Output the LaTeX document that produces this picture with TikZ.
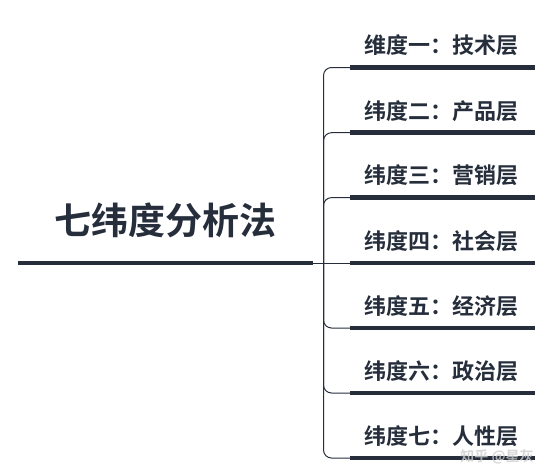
\documentclass[tikz,border=0pt]{standalone}
\usepackage{fontspec}
\newfontfamily\cjk{Noto Sans CJK SC Bold}
\definecolor{ink}{RGB}{38,46,60}
\begin{document}
\begin{tikzpicture}[x=1pt,y=-1pt,
  itemtext/.style={font=\cjk\fontsize{22}{22}\selectfont, text=ink, inner sep=0pt, anchor=center},
  titletext/.style={font=\cjk\fontsize{37}{37}\selectfont, text=ink, inner sep=0pt, anchor=center},
  heavy/.style={draw=ink, line width=4.5pt},
  thinline/.style={draw=ink, line width=1pt, rounded corners=8pt}]
\useasboundingbox (0,0) rectangle (553,475);
\node[titletext] (t) at (165,220) {七纬度分析法};
\coordinate (m1) at (18,263);
\coordinate (m2) at (313,263);
\draw[heavy] (m1) -- (m2);
\coordinate (hub) at (323.5,263);
\foreach \i/\lab/\y in {1/维度一：技术层/67.5, 2/纬度二：产品层/132.7, 3/纬度三：营销层/197.6, 4/纬度四：社会层/263, 5/纬度五：经济层/328, 6/纬度六：政治层/393, 7/纬度七：人性层/458}{
  \node[itemtext] (i\i) at (441.5,\y-22) {\lab};
  \coordinate (s\i) at (350,\y);
  \coordinate (e\i) at (535,\y);
  \draw[heavy] (s\i) -- (e\i);
}
\foreach \i in {1,2,3,5,6,7}{
  \draw[thinline] (hub) |- (s\i);
}
\draw[thinline] (m2) -- (s4);
\node[font=\cjk\fontsize{14}{14}\selectfont, text=gray!40, opacity=0.8, inner sep=0pt] (wm) at (497,457) {知乎 @星灰};
\end{tikzpicture}
\end{document}
